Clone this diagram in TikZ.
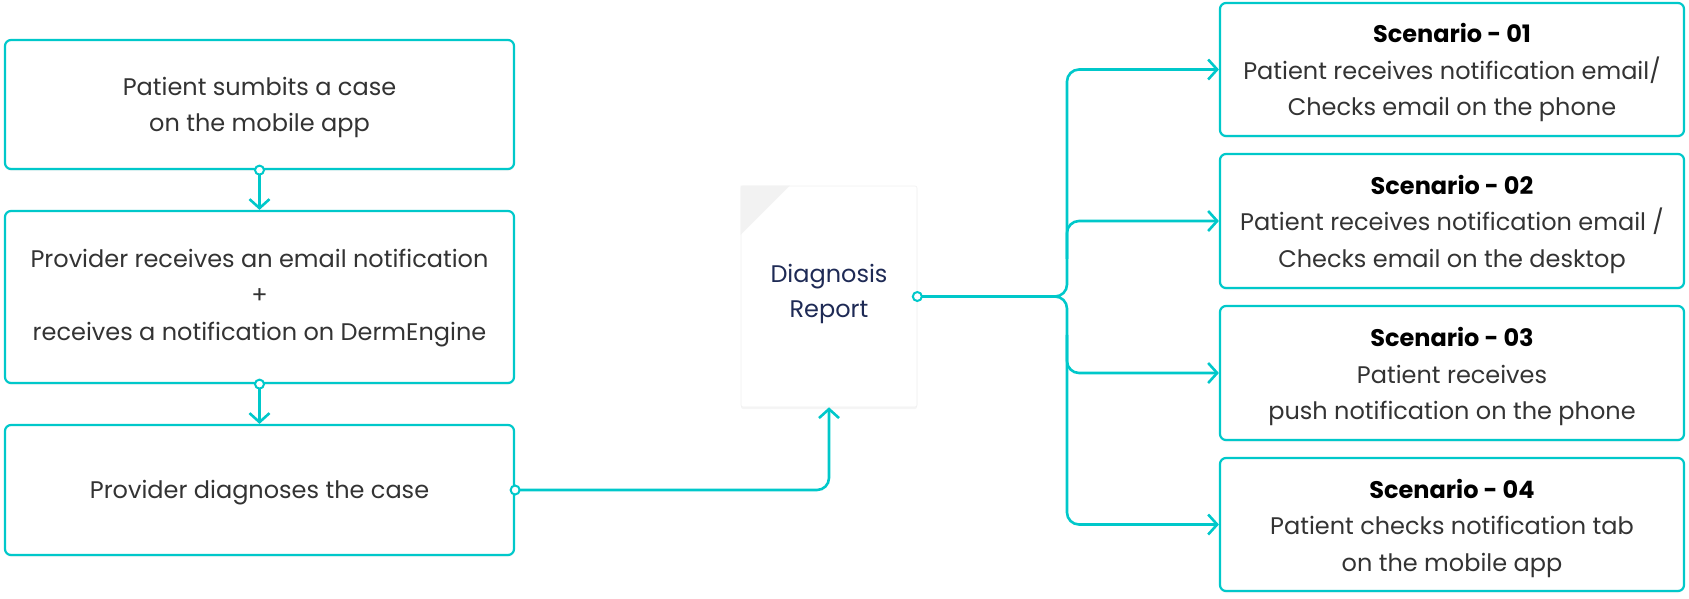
\documentclass[tikz,border=0pt]{standalone}
\usepackage{fontspec}
\setmainfont{Poppins}
\usetikzlibrary{arrows.meta,calc,shadows}
\definecolor{tealc}{HTML}{00C8CA}
\definecolor{textc}{HTML}{333333}
\definecolor{navyc}{HTML}{1E2A55}
\tikzset{
  box/.style={draw=tealc, line width=2.2pt, rounded corners=6pt, fill=white,
    inner sep=0pt,
    drop shadow={opacity=0.07, shadow xshift=0pt, shadow yshift=-2pt}},
  lbox/.style={box, minimum width=509pt},
  sbox/.style={box, minimum width=464pt},
  txt/.style={align=center, text=textc, inner sep=0pt, font=\fontsize{24}{36.5}\selectfont},
  ttl/.style={text=black},
  conn/.style={draw=tealc, line width=2.6pt, rounded corners=12pt,
    -{Straight Barb[length=9pt,width=20pt]}},
  dotc/.style={circle, draw=tealc, line width=2pt, fill=white, inner sep=0pt, minimum size=9pt},
}
\begin{document}
\begin{tikzpicture}[x=1pt,y=-1pt]
\useasboundingbox (0,0) rectangle (1689,598);
% left column
\node[lbox, minimum height=129pt] (b1) at (259.5,104.5) {};
\node[txt] (b1t) at ($(b1.center)+(0,3)$) {Patient sumbits a case\\ on the mobile app};
\node[lbox, minimum height=172pt] (b2) at (259.5,297) {};
\node[txt] (b2t) at ($(b2.center)+(0,1)$) {Provider receives an email notification\\+\\ receives a notification on DermEngine};
\node[lbox, minimum height=130pt] (b3) at (259.5,490) {};
\node[txt] (b3t) at ($(b3.center)+(0,3)$) {Provider diagnoses the case};
% report
\node[fill=white, draw=black!6, line width=0.6pt, rounded corners=2pt,
  minimum width=176pt, minimum height=221pt, inner sep=0pt,
  drop shadow={opacity=0.08, shadow xshift=0pt, shadow yshift=-2pt}] (rep) at (829,296.5) {};
\fill[black!5] (rep.north west) -- ++(49,0) -- ++(-49,49) -- cycle;
\node[txt, text=navyc, font=\fontsize{24}{35.5}\selectfont] (replabel) at (829,294) {Diagnosis\\Report};
% scenarios
\node[sbox, minimum height=133pt] (s1) at (1452,69.5) {};
\node[txt] (s1t) at ($(s1.center)+(0,3.5)$) {\textbf{\color{black}Scenario - 01}\\Patient receives notification email/\\Checks email on the phone};
\node[sbox, minimum height=134pt] (s2) at (1452,221) {};
\node[txt] (s2t) at ($(s2.center)+(0,3.5)$) {\textbf{\color{black}Scenario - 02}\\Patient receives notification email /\\Checks email on the desktop};
\node[sbox, minimum height=134pt] (s3) at (1452,373) {};
\node[txt] (s3t) at ($(s3.center)+(0,3.5)$) {\textbf{\color{black}Scenario - 03}\\Patient receives\\push notification on the phone};
\node[sbox, minimum height=133pt] (s4) at (1452,524.5) {};
\node[txt] (s4t) at ($(s4.center)+(0,3.5)$) {\textbf{\color{black}Scenario - 04}\\Patient checks notification tab\\on the mobile app};
% connectors
\coordinate (trunk) at (1067,0);
\draw[conn] (b1.south) -- (b2.north);
\draw[conn] (b2.south) -- (b3.north);
\draw[conn] (b3.east) -| (rep.south);
\draw[conn] (rep.east) -| (trunk |- s1.west) -- (s1.west);
\draw[conn] (rep.east) -| (trunk |- s4.west) -- (s4.west);
\draw[conn] ($(trunk |- s2.west)!0.5!(trunk |- rep.east)$) -- (trunk |- s2.west) -- (s2.west);
\draw[conn] ($(trunk |- s3.west)!0.5!(trunk |- rep.east)$) -- (trunk |- s3.west) -- (s3.west);
% start dots
\node[dotc] (d1) at (b1.south) {};
\node[dotc] (d2) at (b2.south) {};
\node[dotc] (d3) at (b3.east) {};
\node[dotc] (d4) at (rep.east) {};
\end{tikzpicture}
\end{document}
